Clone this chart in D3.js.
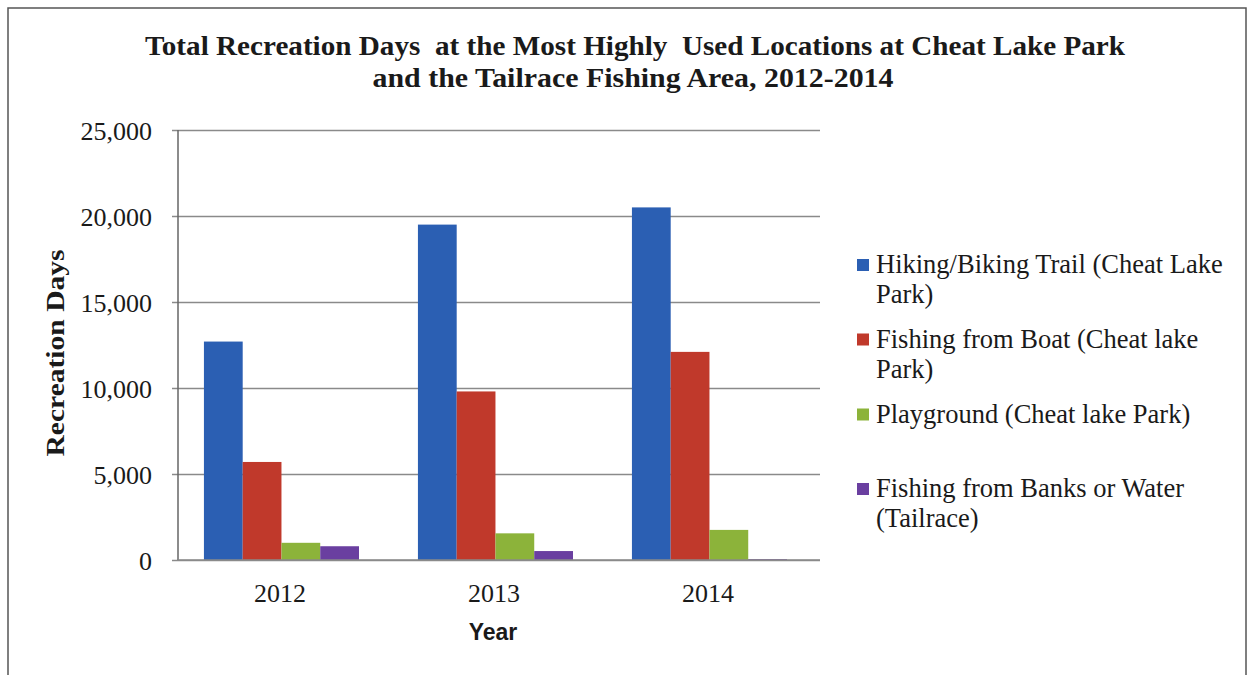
<!DOCTYPE html>
<html>
<head>
<meta charset="utf-8">
<script src="https://cdn.jsdelivr.net/npm/d3@7"></script>
<style>
  body { margin: 0; background: #fff; }
  svg { display: block; }
</style>
</head>
<body>
<svg id="chart" width="1252" height="675"></svg>
<script>
// Chart data
var years = ["2012", "2013", "2014"];
var seriesNames = [
  "Hiking/Biking Trail (Cheat Lake Park)",
  "Fishing from Boat (Cheat lake Park)",
  "Playground (Cheat lake Park)",
  "Fishing from Banks or Water (Tailrace)"
];
var hikingValues = [12700, 19500, 20500];
var boatValues = [5700, 9800, 12100];
var playgroundValues = [1000, 1550, 1750];
var banksValues = [800, 520, 50];
var yTicks = [0, 5000, 10000, 15000, 20000, 25000];

// legend lines (wrapped like the original)
var legendLines = [
  ["Hiking/Biking Trail (Cheat Lake", "Park)"],
  ["Fishing from Boat (Cheat lake", "Park)"],
  ["Playground (Cheat lake Park)"],
  ["Fishing from Banks or Water", "(Tailrace)"]
];
var colors = ["#2b5fb3", "#c0392b", "#8cb33a", "#6a3fa0"];

var allValues = [hikingValues, boatValues, playgroundValues, banksValues];
var data = years.map((yr, i) => ({
  year: yr,
  values: seriesNames.map((s, j) => ({ series: s, value: allValues[j][i] }))
}));

var svg = d3.select("#chart");
var serif = "'Liberation Serif', 'Times New Roman', serif";
var ink = "#1a1a1a";

// Outer frame
svg.append("rect")
  .attr("x", 8).attr("y", 8)
  .attr("width", 1238).attr("height", 700)
  .attr("fill", "none")
  .attr("stroke", "#555")
  .attr("stroke-width", 1.5);

// Title (the original has double spaces in it)
var title = svg.append("g")
  .attr("font-family", serif)
  .attr("font-weight", "bold")
  .attr("font-size", 27)
  .attr("fill", ink)
  .attr("text-anchor", "middle");

title.append("text")
  .attr("x", 635).attr("y", 55)
  .attr("textLength", 980)
  .attr("lengthAdjust", "spacingAndGlyphs")
  .text("Total Recreation Days \u00a0at the Most Highly \u00a0Used Locations at Cheat Lake Park");

title.append("text")
  .attr("x", 633).attr("y", 87)
  .attr("textLength", 521)
  .attr("lengthAdjust", "spacingAndGlyphs")
  .text("and the Tailrace Fishing Area, 2012-2014");

// Scales
var plotLeft = 178, plotRight = 820, plotTop = 130, plotBottom = 560;

var x0 = d3.scaleBand()
  .domain(years)
  .range([plotLeft, plotRight]);

var x1 = d3.scaleBand()
  .domain(seriesNames)
  .range([0, x0.bandwidth()])
  .paddingOuter(0.76)
  .align(0.44);

var y = d3.scaleLinear()
  .domain([0, 25000])
  .range([plotBottom, plotTop]);

// Gridlines + y tick labels
var yAxis = svg.append("g")
  .attr("transform", `translate(${plotLeft}, 0)`)
  .call(d3.axisLeft(y)
    .tickValues(yTicks)
    .tickSize(6)
    .tickPadding(20)
    .tickFormat(d3.format(",")));

yAxis.select(".domain").remove();
yAxis.selectAll(".tick line")
  .attr("stroke", "#8a8a8a")
  .attr("stroke-width", 1.5)
  .attr("x2", plotRight - plotLeft)
  .attr("x1", -6);
yAxis.selectAll(".tick text")
  .attr("font-family", serif)
  .attr("font-size", 26)
  .attr("fill", ink)
  .attr("dy", "0.36em");

// Vertical axis line
svg.append("line")
  .attr("x1", plotLeft).attr("x2", plotLeft)
  .attr("y1", plotTop).attr("y2", plotBottom)
  .attr("stroke", "#666")
  .attr("stroke-width", 1.5);

// Bars
var groups = svg.selectAll(".year-group")
  .data(data)
  .enter().append("g")
  .attr("class", "year-group")
  .attr("transform", d => `translate(${x0(d.year)}, 0)`);

groups.selectAll("rect")
  .data(d => d.values)
  .enter().append("rect")
  .attr("x", d => x1(d.series))
  .attr("y", d => y(d.value))
  .attr("width", x1.bandwidth())
  .attr("height", d => y(0) - y(d.value))
  .attr("fill", (d, i) => colors[i]);

// x axis line over the bars
svg.append("line")
  .attr("x1", plotLeft).attr("x2", plotRight)
  .attr("y1", plotBottom).attr("y2", plotBottom)
  .attr("stroke", "#8a8a8a")
  .attr("stroke-width", 1.5);

// x tick labels
svg.append("g")
  .selectAll("text")
  .data(years)
  .enter().append("text")
  .attr("x", d => x0(d) + x0.bandwidth() / 2 - 5)
  .attr("y", 602)
  .attr("text-anchor", "middle")
  .attr("font-family", serif)
  .attr("font-size", 26)
  .attr("fill", ink)
  .text(d => d);

// Axis titles
svg.append("text")
  .attr("x", 493).attr("y", 640)
  .attr("text-anchor", "middle")
  .attr("font-family", "'Liberation Sans', Arial, sans-serif")
  .attr("font-weight", "bold")
  .attr("font-size", 23)
  .attr("fill", ink)
  .text("Year");

svg.append("text")
  .attr("transform", "translate(64, 353) rotate(-90)")
  .attr("text-anchor", "middle")
  .attr("font-family", serif)
  .attr("font-weight", "bold")
  .attr("font-size", 26)
  .attr("textLength", 207)
  .attr("lengthAdjust", "spacingAndGlyphs")
  .attr("fill", ink)
  .text("Recreation Days");

// Legend
var legendBaselines = [273, 347.5, 422.5, 497];
var legend = svg.append("g")
  .attr("font-family", serif)
  .attr("font-size", 26.5)
  .attr("fill", ink);

var items = legend.selectAll(".legend-item")
  .data(seriesNames)
  .enter().append("g")
  .attr("class", "legend-item")
  .attr("transform", (d, i) => `translate(857, ${legendBaselines[i]})`);

items.append("rect")
  .attr("x", 0).attr("y", -14)
  .attr("width", 12).attr("height", 12)
  .attr("fill", (d, i) => colors[i]);

items.each(function(d, i) {
  let t = d3.select(this).append("text").attr("x", 19);
  legendLines[i].forEach((line, k) => {
    t.append("tspan")
      .attr("x", 19)
      .attr("y", k * 30)
      .text(line);
  });
});
</script>
</body>
</html>
